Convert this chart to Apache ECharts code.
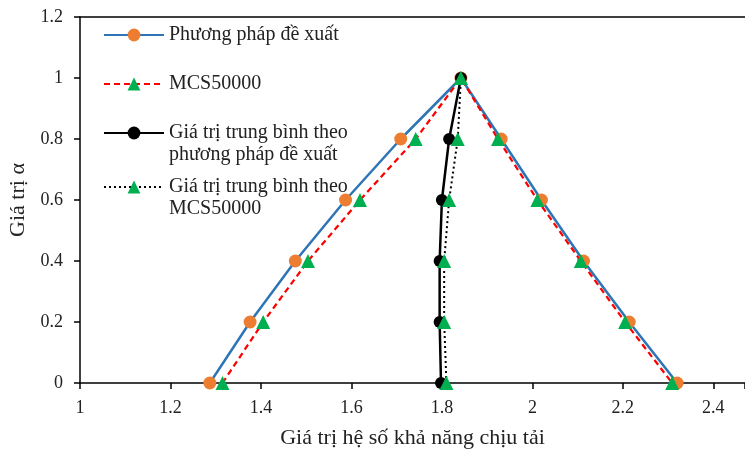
<!DOCTYPE html>
<html><head><meta charset="utf-8">
<script src="https://cdn.jsdelivr.net/npm/echarts@6/dist/echarts.min.js"></script>
<style>html,body{margin:0;padding:0;background:#fff}#c{width:745px;height:451px}</style>
</head><body><div id="c"></div>
<script>
// alpha levels (y) for the triangular fuzzy numbers: up the left side then down the right side
const alphaTri = [0, 0.2, 0.4, 0.6, 0.8, 1, 0.8, 0.6, 0.4, 0.2, 0];
const proposed = [1.287, 1.376, 1.476, 1.587, 1.709, 1.842, 1.931, 2.020, 2.113, 2.214, 2.320];
const mcs = [1.315, 1.405, 1.504, 1.619, 1.742, 1.842, 1.924, 2.011, 2.107, 2.205, 2.309];
const alphaMean = [0, 0.2, 0.4, 0.6, 0.8, 1];
const meanProposed = [1.798, 1.795, 1.795, 1.800, 1.816, 1.842];
const meanMcs = [1.810, 1.805, 1.805, 1.816, 1.835, 1.842];
const seriesNames = ['Phương pháp đề xuất', 'MCS50000', 'Giá trị trung bình theo\nphương pháp đề xuất', 'Giá trị trung bình theo\nMCS50000'];
const xTitle = 'Giá trị hệ số khả năng chịu tải';
const yTitle = 'Giá trị α';

const pairs = (xs, ys) => xs.map((x, i) => [x, ys[i]]);
const font = '"Liberation Serif","Times New Roman",serif';
const chart = echarts.init(document.getElementById('c'), null, {renderer: 'canvas'});
const legendBase = {left: 103, padding: 0, itemWidth: 60, itemHeight: 16, itemGap: 0,
  textStyle: {fontFamily: font, fontSize: 20, color: '#222', lineHeight: 22}};
// a blank leading line keeps the legend icon level with the first text line
const twoLineFmt = name => '\n' + name;
chart.setOption({
  animation: false,
  grid: {left: 80, top: 17, right: 0, bottom: 68, containLabel: false, outerBoundsMode: 'none'},
  legend: [
    Object.assign({}, legendBase, {top: 24, data: [seriesNames[0]]}),
    Object.assign({}, legendBase, {top: 73, data: [seriesNames[1]]}),
    Object.assign({}, legendBase, {top: 100, data: [seriesNames[2]], formatter: twoLineFmt}),
    Object.assign({}, legendBase, {top: 154, data: [seriesNames[3]], formatter: twoLineFmt})
  ],
  xAxis: [{
    type: 'value', min: 1, max: 2.47, interval: 0.2,
    name: xTitle, nameLocation: 'middle', nameGap: 44,
    nameTextStyle: {fontFamily: font, fontSize: 22, color: '#222'},
    axisLine: {lineStyle: {color: '#000', width: 1.5}},
    axisTick: {show: true, length: 6, lineStyle: {color: '#000', width: 1.5}},
    axisLabel: {fontFamily: font, fontSize: 18, color: '#222', margin: 16,
      formatter: v => (Math.abs(v * 5 - Math.round(v * 5)) < 1e-6 ? String(+v.toFixed(1)) : '')},
    splitLine: {show: false}
  }, {
    type: 'value', position: 'top', min: 1, max: 2.47,
    axisLine: {show: true, lineStyle: {color: '#000', width: 1.5}},
    axisTick: {show: false}, axisLabel: {show: false}, splitLine: {show: false}
  }],
  yAxis: {
    type: 'value', min: 0, max: 1.2, interval: 0.2,
    name: yTitle, nameLocation: 'middle', nameGap: 51, nameRotate: 90,
    nameTextStyle: {fontFamily: font, fontSize: 22, color: '#222'},
    axisLine: {show: true, lineStyle: {color: '#000', width: 1.5}},
    axisTick: {show: true, inside: false, length: 6, lineStyle: {color: '#000', width: 1.5}},
    axisLabel: {fontFamily: font, fontSize: 18, color: '#222', margin: 17,
      formatter: v => String(+v.toFixed(1))},
    splitLine: {show: false}
  },
  series: [
    {name: seriesNames[0], type: 'line', data: pairs(proposed, alphaTri),
     lineStyle: {color: '#2E75B6', width: 2.5}, itemStyle: {color: '#ED7D31'},
     symbol: 'circle', symbolSize: 13, z: 2},
    {name: seriesNames[1], type: 'line', data: pairs(mcs, alphaTri),
     lineStyle: {color: '#FF0000', width: 2.25, type: [6, 4]}, itemStyle: {color: '#00B050'},
     symbol: 'triangle', symbolSize: 14, z: 3},
    {name: seriesNames[2], type: 'line', data: pairs(meanProposed, alphaMean),
     lineStyle: {color: '#000', width: 2.5}, itemStyle: {color: '#000'},
     symbol: 'circle', symbolSize: 12, z: 4},
    {name: seriesNames[3], type: 'line', data: pairs(meanMcs, alphaMean),
     lineStyle: {color: '#000', width: 2, type: [2, 3]}, itemStyle: {color: '#00B050'},
     symbol: 'triangle', symbolSize: 14, z: 5}
  ]
});
</script></body></html>
